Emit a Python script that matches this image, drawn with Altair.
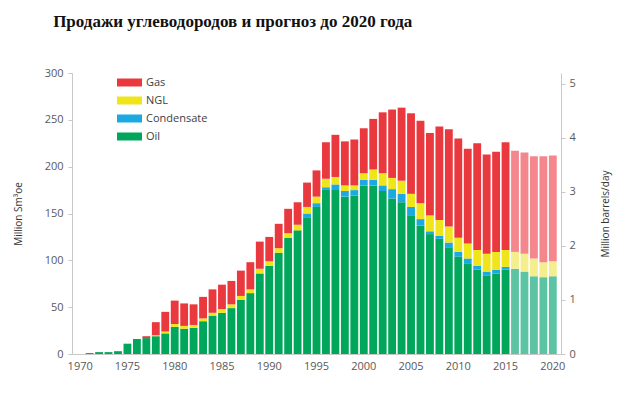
import altair as alt
import pandas as pd

years = list(range(1970, 2021))
oil = [0, 1, 2, 2, 3, 11, 16, 17, 19, 22,
       29, 27, 28, 35, 41, 44, 49, 58, 65, 86,
       94, 108, 124, 132, 146, 157, 176, 175, 168, 169,
       180, 180, 174, 166, 162, 148, 137, 128, 123, 114,
       104, 97, 90, 84, 86, 90, 91, 88, 83, 82, 83]
condensate = [0] * 24 + [4, 4, 2, 6, 6, 6, 6, 6, 6, 10, 9, 9, 7, 3, 3, 5, 5, 5, 4, 4, 4, 3] + [0] * 5
ngl = [0] * 8 + [1, 2, 3, 3, 3, 3, 3, 4, 4, 4, 4, 5, 5, 5, 5, 6, 7, 7, 9, 8, 6, 5,
                 7, 11, 13, 12, 14, 14, 17, 17, 17, 17, 15, 16, 17, 19, 19, 18,
                 18, 19, 19, 16, 16]
gas = [0] * 7 + [2, 14, 21, 25, 24, 22, 23, 25, 26, 25, 27, 29, 29, 26, 26, 26, 24, 26, 28,
                 39, 45, 47, 49, 48, 54, 65, 73, 78, 86, 88, 88, 100, 104, 106, 101, 114,
                 106, 107, 115, 108, 108, 109, 113, 113]
forecast_start = 2016

series = ["Oil", "Condensate", "NGL", "Gas"]
values = {"Oil": oil, "Condensate": condensate, "NGL": ngl, "Gas": gas}

rows = []
for i, yr in enumerate(years):
    for k, s in enumerate(series):
        key = s if yr < forecast_start else s + " (прогноз)"
        rows.append({"year": yr, "series": s, "key": key, "value": values[s][i], "ord": k})
df = pd.DataFrame(rows)

keys = ["Gas", "NGL", "Condensate", "Oil",
        "Gas (прогноз)", "NGL (прогноз)", "Condensate (прогноз)", "Oil (прогноз)"]
colors = ["#E9383E", "#F0E51A", "#1CA8E0", "#00A65A",
          "#F3878D", "#F4EE8E", "#8FD3EE", "#5DC4A3"]

label_font = "Open Sans"
grey = "#595959"

bars = alt.Chart(df).mark_bar(strokeWidth=0).encode(
    x=alt.X("year:O",
            scale=alt.Scale(domain=years, paddingInner=0.17, paddingOuter=0.45),
            axis=alt.Axis(title=None, labelAngle=0, ticks=False,
                          labelExpr="datum.value % 5 == 0 ? datum.value : ''",
                          labelOverlap=False, labelFont=label_font, labelFontSize=11,
                          labelColor=grey, domainColor="#c8c8c8", labelPadding=6)),
    y=alt.Y("value:Q", stack="zero",
            scale=alt.Scale(domain=[0, 300], nice=False),
            axis=alt.Axis(title="Million Sm³oe", values=[0, 50, 100, 150, 200, 250, 300],
                          grid=False, labelFont=label_font, labelFontSize=11, labelColor=grey,
                          labelPadding=5,
                          titleFont=label_font, titleFontSize=10, titleFontWeight="normal",
                          titleColor="#333333", titlePadding=21, domainColor="#c8c8c8",
                          tickColor="#c8c8c8", tickSize=4)),
    color=alt.Color("key:N", scale=alt.Scale(domain=keys, range=colors),
                    legend=alt.Legend(values=["Gas", "NGL", "Condensate", "Oil"], title=None,
                                      orient="none", legendX=45, legendY=-3,
                                      symbolType="M-1,-0.32H1V0.32H-1Z", symbolSize=625,
                                      symbolStrokeWidth=0, symbolOpacity=1,
                                      labelFont=label_font, labelFontSize=11,
                                      labelColor="#404040", labelOffset=4, rowPadding=-3.5)),
    order=alt.Order("ord:Q"),
)

right = alt.Chart(pd.DataFrame({"r": [0.0]})).mark_rule(opacity=0).encode(
    y=alt.Y("r:Q", scale=alt.Scale(domain=[0, 5.2], nice=False),
            axis=alt.Axis(orient="right", title="Million barrels/day", values=[0, 1, 2, 3, 4, 5],
                          grid=False, labelFont=label_font, labelFontSize=11, labelColor=grey,
                          labelPadding=4,
                          titleFont=label_font, titleFontSize=10, titleFontWeight="normal",
                          titleColor="#333333", titleAngle=270, titlePadding=35,
                          domainColor="#c8c8c8", tickColor="#c8c8c8", tickSize=4))
)

chart = alt.layer(bars, right).resolve_scale(y="independent").properties(
    width=489, height=281,
    title=alt.TitleParams("Продажи углеводородов и прогноз до 2020 года", anchor="start",
                          font="Liberation Serif", fontSize=17, fontWeight="bold",
                          color="#111111", dx=40, offset=36),
).configure_view(stroke=None)

chart.save("out.html", embed_options={"renderer": "svg", "actions": False})
